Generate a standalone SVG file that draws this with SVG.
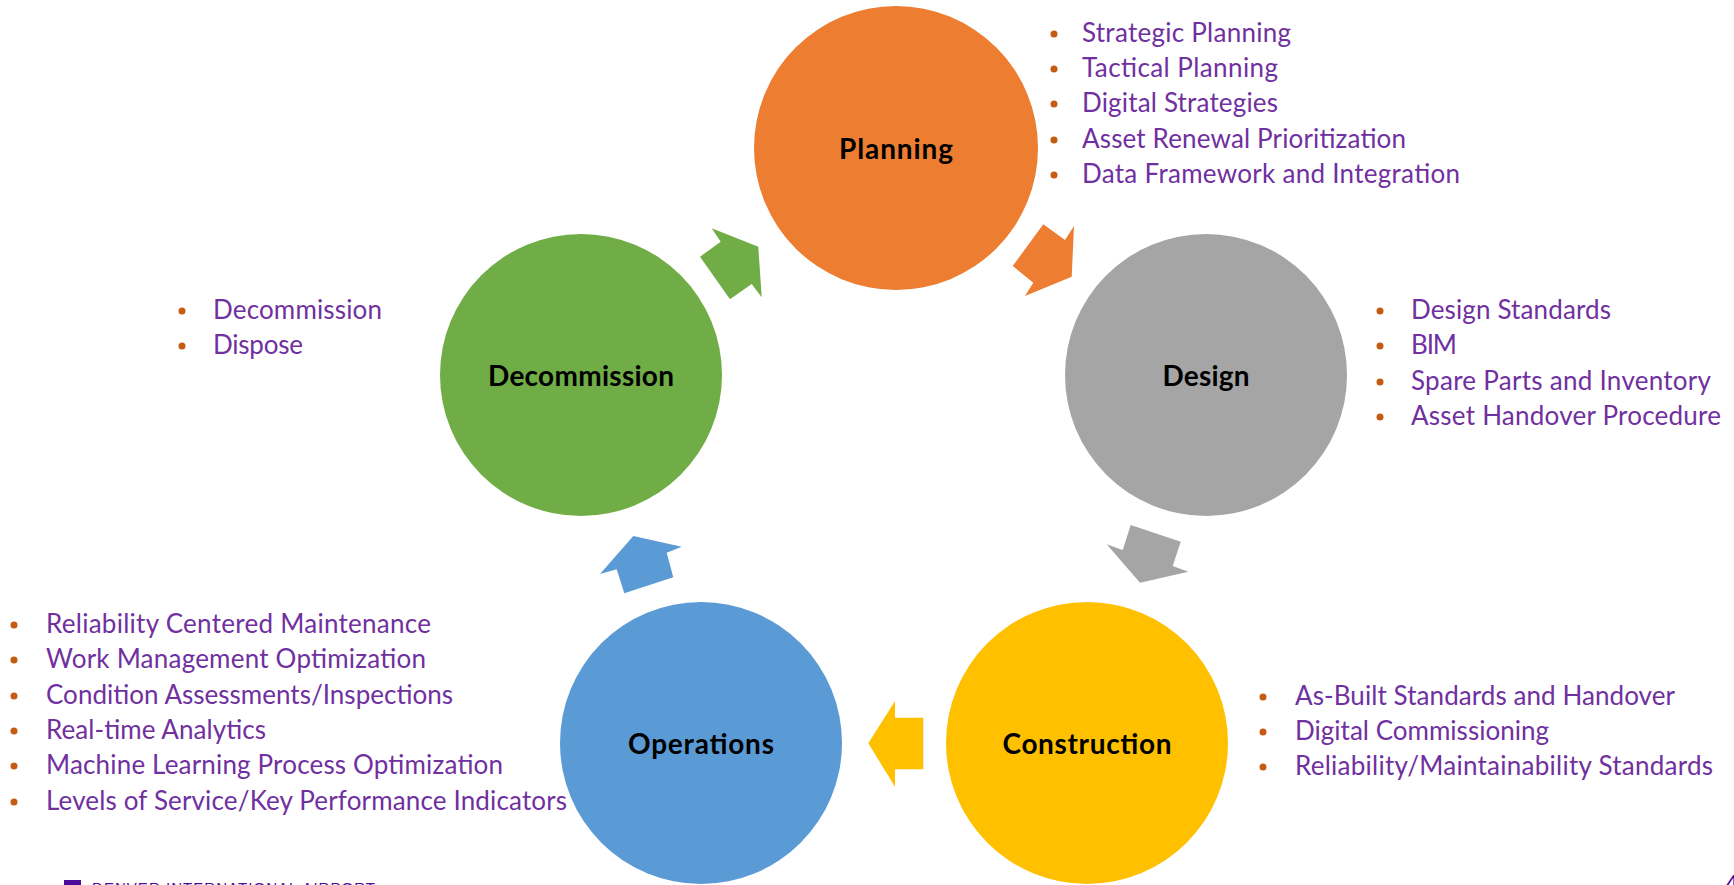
<svg xmlns="http://www.w3.org/2000/svg" width="1734" height="885" viewBox="0 0 1734 885">
<style>
.lbl{font-family:Lato,"Open Sans","Liberation Sans",sans-serif;font-weight:bold;font-size:28px;fill:#000;text-anchor:middle;dominant-baseline:central}
.it{font-family:Lato,"Open Sans","Liberation Sans",sans-serif;font-size:26px;fill:#7030A0}
.bu{fill:#C55A11}
</style>
<defs>
<circle id="dot" r="3.5"/>
</defs>
<rect width="1734" height="885" fill="#fff"/>
<g id="connectors">
<polygon fill="#70AD47" points="711.7,228.3 720.7,241.7 700,256.7 730,299.3 751.7,284 761.7,297.3 758.3,246.7"/>
<polygon fill="#ED7D31" points="1043.3,224.3 1065,240 1074,226 1071.7,276.7 1025,296 1033.3,282.7 1012.7,266"/>
<polygon fill="#A5A5A5" points="1130.7,525 1180.7,541.7 1172.7,566 1188.3,571.7 1140,582.7 1106.7,544.3 1122.7,550"/>
<polygon fill="#FFC000" points="868.3,743.3 895,701 895,717.7 923.3,717.7 923.3,769.3 895,769.3 895,786.7"/>
<polygon fill="#5B9BD5" points="633.3,536 681.7,546.7 666.7,552.7 673.3,577.3 624.3,593.3 616.7,569.3 600,574"/>
</g>
<g id="planning">
<circle cx="896" cy="148" r="142" fill="#ED7D31"/>
<text class="lbl" x="896" y="148" textLength="114">Planning</text>
</g>
<g id="design">
<circle cx="1206" cy="375" r="141" fill="#A5A5A5"/>
<text class="lbl" x="1206" y="375" textLength="87">Design</text>
</g>
<g id="construction">
<circle cx="1087" cy="743" r="141" fill="#FFC000"/>
<text class="lbl" x="1087" y="743" textLength="169">Construction</text>
</g>
<g id="operations">
<circle cx="701" cy="743" r="141" fill="#5B9BD5"/>
<text class="lbl" x="701" y="743" textLength="146">Operations</text>
</g>
<g id="decommission">
<circle cx="581" cy="375" r="141" fill="#70AD47"/>
<text class="lbl" x="581" y="375" textLength="186">Decommission</text>
</g>
<g id="planning-list">
<use href="#dot" class="bu" x="1054" y="34"/>
<use href="#dot" class="bu" x="1054" y="69"/>
<use href="#dot" class="bu" x="1054" y="104"/>
<use href="#dot" class="bu" x="1054" y="140"/>
<use href="#dot" class="bu" x="1054" y="175"/>
<text class="it" x="1082" y="42" textLength="209">Strategic Planning</text>
<text class="it" x="1082" y="77" textLength="196">Tactical Planning</text>
<text class="it" x="1082" y="112" textLength="196">Digital Strategies</text>
<text class="it" x="1082" y="148" textLength="324">Asset Renewal Prioritization</text>
<text class="it" x="1082" y="183" textLength="378">Data Framework and Integration</text>
</g>
<g id="design-list">
<use href="#dot" class="bu" x="1380" y="311"/>
<use href="#dot" class="bu" x="1380" y="346"/>
<use href="#dot" class="bu" x="1380" y="382"/>
<use href="#dot" class="bu" x="1380" y="417"/>
<text class="it" x="1411" y="319" textLength="200">Design Standards</text>
<text class="it" x="1411" y="354" textLength="46">BIM</text>
<text class="it" x="1411" y="390" textLength="300">Spare Parts and Inventory</text>
<text class="it" x="1411" y="425" textLength="310">Asset Handover Procedure</text>
</g>
<g id="construction-list">
<use href="#dot" class="bu" x="1263" y="697"/>
<use href="#dot" class="bu" x="1263" y="732"/>
<use href="#dot" class="bu" x="1263" y="767"/>
<text class="it" x="1295" y="705" textLength="380">As-Built Standards and Handover</text>
<text class="it" x="1295" y="740" textLength="254">Digital Commissioning</text>
<text class="it" x="1295" y="775" textLength="418">Reliability/Maintainability Standards</text>
</g>
<g id="operations-list">
<use href="#dot" class="bu" x="14" y="625"/>
<use href="#dot" class="bu" x="14" y="660"/>
<use href="#dot" class="bu" x="14" y="696"/>
<use href="#dot" class="bu" x="14" y="731"/>
<use href="#dot" class="bu" x="14" y="766"/>
<use href="#dot" class="bu" x="14" y="802"/>
<text class="it" x="46" y="633" textLength="385">Reliability Centered Maintenance</text>
<text class="it" x="46" y="668" textLength="380">Work Management Optimization</text>
<text class="it" x="46" y="704" textLength="407">Condition Assessments/Inspections</text>
<text class="it" x="46" y="739" textLength="220">Real-time Analytics</text>
<text class="it" x="46" y="774" textLength="457">Machine Learning Process Optimization</text>
<text class="it" x="46" y="810" textLength="521">Levels of Service/Key Performance Indicators</text>
</g>
<g id="decommission-list">
<use href="#dot" class="bu" x="182" y="311"/>
<use href="#dot" class="bu" x="182" y="346"/>
<text class="it" x="213" y="319" textLength="169">Decommission</text>
<text class="it" x="213" y="354" textLength="90">Dispose</text>
</g>
<g id="footer">
<rect x="64" y="880" width="17" height="17" fill="#4B0C9C"/>
<text x="92" y="893" font-family="'Liberation Sans',Arial,sans-serif" font-size="15" fill="#4B0C9C" textLength="283">DENVER INTERNATIONAL AIRPORT</text>
<text x="1725" y="892" font-family="'Liberation Sans',Arial,sans-serif" font-size="24" fill="#4B0C9C">4</text>
</g>
</svg>
